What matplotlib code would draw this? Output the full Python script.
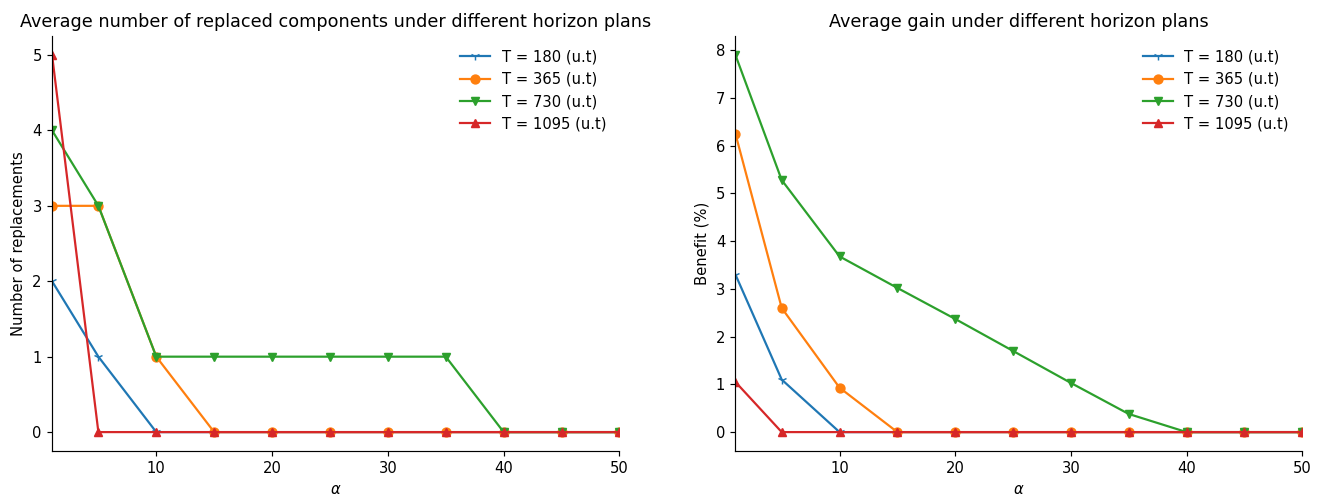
import matplotlib.pyplot as plt

alpha = [1, 5, 10, 15, 20, 25, 30, 35, 40, 45, 50]
labels = ["T = 180 (u.t)", "T = 365 (u.t)", "T = 730 (u.t)", "T = 1095 (u.t)"]
markers = ["1", "o", "v", "^"]

# Number of replaced components
repl_180 = [2, 1, 0, 0, 0, 0, 0, 0, 0, 0, 0]
repl_365 = [3, 3, 1, 0, 0, 0, 0, 0, 0, 0, 0]
repl_730 = [4, 3, 1, 1, 1, 1, 1, 1, 0, 0, 0]
repl_1095 = [5, 0, 0, 0, 0, 0, 0, 0, 0, 0, 0]

# Benefit (%)
gain_180 = [3.3, 1.1, 0, 0, 0, 0, 0, 0, 0, 0, 0]
gain_365 = [6.25, 2.6, 0.93, 0, 0, 0, 0, 0, 0, 0, 0]
gain_730 = [7.9, 5.28, 3.68, 3.02, 2.37, 1.7, 1.03, 0.38, 0, 0, 0]
gain_1095 = [1.05, 0, 0, 0, 0, 0, 0, 0, 0, 0, 0]

dpi = 106
fig = plt.figure(figsize=(1318 / dpi, 495 / dpi), dpi=dpi)
ax1 = fig.add_axes([0.0395, 0.089, 0.4305, 0.838])
ax2 = fig.add_axes([0.558, 0.089, 0.430, 0.838])

for ax, series in [(ax1, [repl_180, repl_365, repl_730, repl_1095]),
                   (ax2, [gain_180, gain_365, gain_730, gain_1095])]:
    for vals, lab, m in zip(series, labels, markers):
        ax.plot(alpha, vals, marker=m, label=lab)
    ax.set_xlim(1, 50)
    ax.set_xlabel(r"$\alpha$")
    ax.spines["top"].set_visible(False)
    ax.spines["right"].set_visible(False)
    ax.legend(frameon=False, loc="upper right")

ax1.set_title("Average number of replaced components under different horizon plans")
ax1.set_ylabel("Number of replacements")
ax2.set_title("Average gain under different horizon plans")
ax2.set_ylabel("Benefit (%)")

plt.savefig("out.png", dpi=dpi)
